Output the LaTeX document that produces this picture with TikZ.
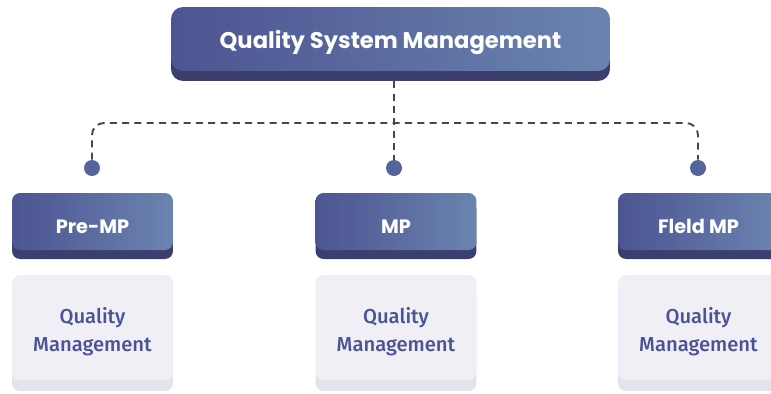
\documentclass[tikz,border=0pt]{standalone}
\usepackage{fontspec}
\newfontfamily\popfont{Poppins}
\newfontfamily\firafont{Fira Sans}[UprightFont={* Medium}]
\usetikzlibrary{shadows}
\definecolor{qsmleft}{HTML}{4D5492}
\definecolor{qsmright}{HTML}{6A84AF}
\definecolor{qsmshadow}{HTML}{3B3F6E}
\definecolor{qmfill}{HTML}{EFEFF5}
\definecolor{qmshadow}{HTML}{E3E3EB}
\definecolor{qmtext}{HTML}{4B5394}
\definecolor{qsmline}{HTML}{474747}
\definecolor{qsmdot}{HTML}{56649D}

\begin{document}
\begin{tikzpicture}[x=0.02cm,y=-0.02cm]
            \tikzset{
            qsm head/.style={rounded corners=0.24cm,left color=qsmleft,right color=qsmright,general shadow={fill=qsmshadow,shadow xshift=0pt,shadow yshift=-0.2cm},text=white,font=\popfont\bfseries\fontsize{12.9}{15}\selectfont,text height=11.2pt,text depth=0pt,minimum width=8.78cm,minimum height=1.28cm,inner sep=0},
            qsm stage/.style={rounded corners=0.16cm,left color=qsmleft,right color=qsmright,general shadow={fill=qsmshadow,shadow xshift=0pt,shadow yshift=-0.18cm},text=white,font=\popfont\bfseries\fontsize{11}{13}\selectfont,text height=13.5pt,text depth=0pt,minimum width=3.22cm,minimum height=1.14cm,inner sep=0},
            qsm task/.style={rounded corners=0.16cm,fill=qmfill,general shadow={fill=qmshadow,shadow xshift=0pt,shadow yshift=-0.22cm},text=qmtext,font=\firafont\fontsize{11.5}{16.4}\selectfont,align=center,text height=30.2pt,text depth=2.4pt,minimum width=3.22cm,minimum height=2.1cm,inner sep=0},
            qsm dot/.style={circle,fill=qsmdot,minimum size=0.32cm,inner sep=0},
            qsm link/.style={draw=qsmline,line width=1.1pt,dash pattern=on 4pt off 3pt}
            }
            \clip (0,0) rectangle (771,393);
            \node[qsm head] (QSM) at (390.5, 39) {Quality System Management};
            \node[qsm dot] (D1) at (92, 168) {};
            \node[qsm dot] (D2) at (394, 168) {};
            \node[qsm dot] (D3) at (698, 168) {};
            \coordinate (bus) at (394, 123);
            \node[qsm stage] (S1) at (92.5, 221.5) {Pre-MP};
            \node[qsm stage] (S2) at (396, 221.5) {MP};
            \node[qsm stage] (S3) at (698.5, 221.5) {Fleld MP};
            \node[qsm task] (T1) at (92.5, 327.5) {Quality\\Management};
            \node[qsm task] (T2) at (396, 327.5) {Quality\\Management};
            \node[qsm task] (T3) at (698.5, 327.5) {Quality\\Management};

            \path[qsm link]
            ([yshift=-0.2cm]QSM.south -| D2) edge (D2.north);
            
            \draw[qsm link,rounded corners=0.24cm]
            (D1.north) -- (D1 |- bus) -- (D3 |- bus) -- (D3.north);
\end{tikzpicture}
\end{document}
